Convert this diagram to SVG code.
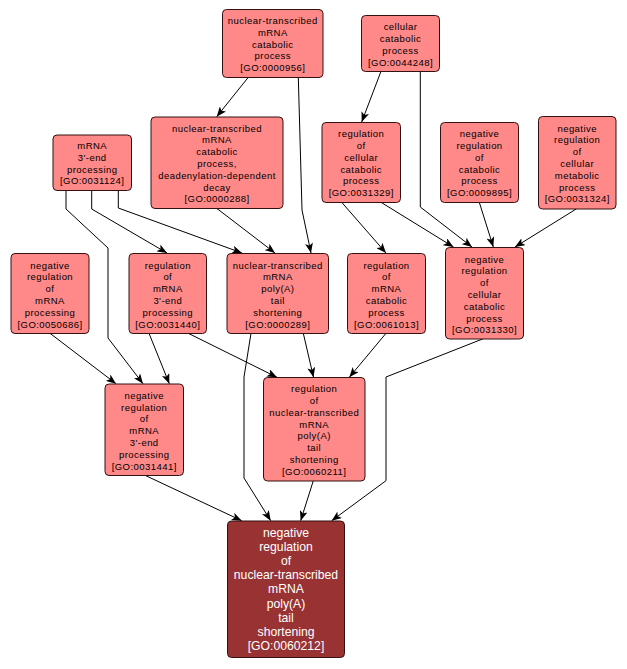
<svg xmlns="http://www.w3.org/2000/svg" width="627" height="669" viewBox="0 0 627 669">
<defs>
<style>
.n rect{fill:#ff8888;stroke:#331111;stroke-width:1}
.n text{font-family:"Liberation Sans",Arial,sans-serif;font-size:9.5px;letter-spacing:0.45px;text-anchor:middle;fill:#000}
.d rect{fill:#993333;stroke:#331111;stroke-width:1}
.d text{font-family:"Liberation Sans",Arial,sans-serif;font-size:12.2px;text-anchor:middle;fill:#fff}
.e path{fill:none;stroke:#000;stroke-width:1;marker-end:url(#ah)}
</style>
<marker id="ah" markerUnits="userSpaceOnUse" markerWidth="10" markerHeight="8" viewBox="0 0 10 8" refX="10" refY="4" orient="auto">
<path d="M0,0 L10,4 L0,8 L2.5,4 z" fill="#000"/>
</marker>
</defs>
<rect width="627" height="669" fill="#fff"/>
<g id="edges" class="e">
<path d="M248.3,77.3 L216.7,116.7"/>
<path d="M298.3,77.3 L302,210 L311,253"/>
<path d="M381,71.3 L361.7,122"/>
<path d="M420.3,71.3 L420.3,207 L472,247"/>
<path d="M341.7,202.3 L386,253"/>
<path d="M381,202.3 L453.5,247"/>
<path d="M479.3,202.3 L493.3,247"/>
<path d="M576.7,208.7 L515,247"/>
<path d="M66,190.3 L66,209 L108,248 L108,338 L143,383.7"/>
<path d="M91.7,190.3 L91.7,209 L167,253"/>
<path d="M118.3,190.3 L118.3,208 L242,253"/>
<path d="M216.7,208.3 L275,253"/>
<path d="M50,333.3 L116,383.7"/>
<path d="M149,333.3 L169.3,383.7"/>
<path d="M188.3,333.3 L277,377.3"/>
<path d="M303.3,333.3 L313.5,377.3"/>
<path d="M251,333.3 L244,377 L244,478 L270.7,520.7"/>
<path d="M386,333.3 L349.3,377.3"/>
<path d="M483.3,338.7 L386,377 L386,480.7 L331.7,520.7"/>
<path d="M145,475.3 L241.7,520.7"/>
<path d="M313.3,480.7 L300.7,520.7"/>
</g>
<g id="GO0000956" class="n"><rect x="222.5" y="9.5" width="100.5" height="68" rx="4"/>
<text x="272.8"><tspan x="272.8" y="23.9">nuclear-transcribed</tspan><tspan x="272.8" y="35.7">mRNA</tspan><tspan x="272.8" y="47.5">catabolic</tspan><tspan x="272.8" y="59.3">process</tspan><tspan x="272.8" y="71.1">[GO:0000956]</tspan></text></g>
<g id="GO0044248" class="n"><rect x="361.5" y="15.5" width="78" height="56" rx="4"/>
<text x="400.5"><tspan x="400.5" y="30.3">cellular</tspan><tspan x="400.5" y="42.1">catabolic</tspan><tspan x="400.5" y="53.9">process</tspan><tspan x="400.5" y="65.7">[GO:0044248]</tspan></text></g>
<g id="GO0000288" class="n"><rect x="151" y="117" width="132" height="91.5" rx="4"/>
<text x="217"><tspan x="217" y="131.6">nuclear-transcribed</tspan><tspan x="217" y="143.4">mRNA</tspan><tspan x="217" y="155.2">catabolic</tspan><tspan x="217" y="167">process,</tspan><tspan x="217" y="178.8">deadenylation-dependent</tspan><tspan x="217" y="190.6">decay</tspan><tspan x="217" y="202.4">[GO:0000288]</tspan></text></g>
<g id="GO0031124" class="n"><rect x="53" y="135" width="78.5" height="55.5" rx="4"/>
<text x="92.2"><tspan x="92.2" y="149">mRNA</tspan><tspan x="92.2" y="160.8">3'-end</tspan><tspan x="92.2" y="172.6">processing</tspan><tspan x="92.2" y="184.4">[GO:0031124]</tspan></text></g>
<g id="GO0031329" class="n"><rect x="322" y="122.5" width="78.5" height="80" rx="4"/>
<text x="361.2"><tspan x="361.2" y="137.2">regulation</tspan><tspan x="361.2" y="149">of</tspan><tspan x="361.2" y="160.8">cellular</tspan><tspan x="361.2" y="172.6">catabolic</tspan><tspan x="361.2" y="184.4">process</tspan><tspan x="361.2" y="196.2">[GO:0031329]</tspan></text></g>
<g id="GO0009895" class="n"><rect x="440.5" y="122.5" width="78" height="80" rx="4"/>
<text x="479.5"><tspan x="479.5" y="137.2">negative</tspan><tspan x="479.5" y="149">regulation</tspan><tspan x="479.5" y="160.8">of</tspan><tspan x="479.5" y="172.6">catabolic</tspan><tspan x="479.5" y="184.4">process</tspan><tspan x="479.5" y="196.2">[GO:0009895]</tspan></text></g>
<g id="GO0031324" class="n"><rect x="538.5" y="116.5" width="77.5" height="92.5" rx="4"/>
<text x="577.2"><tspan x="577.2" y="131.6">negative</tspan><tspan x="577.2" y="143.4">regulation</tspan><tspan x="577.2" y="155.2">of</tspan><tspan x="577.2" y="167">cellular</tspan><tspan x="577.2" y="178.8">metabolic</tspan><tspan x="577.2" y="190.6">process</tspan><tspan x="577.2" y="202.4">[GO:0031324]</tspan></text></g>
<g id="GO0050686" class="n"><rect x="11" y="253.5" width="78" height="80" rx="4"/>
<text x="50"><tspan x="50" y="268.5">negative</tspan><tspan x="50" y="280.3">regulation</tspan><tspan x="50" y="292.1">of</tspan><tspan x="50" y="303.9">mRNA</tspan><tspan x="50" y="315.7">processing</tspan><tspan x="50" y="327.5">[GO:0050686]</tspan></text></g>
<g id="GO0031440" class="n"><rect x="129" y="253.5" width="77.5" height="80" rx="4"/>
<text x="167.8"><tspan x="167.8" y="268.5">regulation</tspan><tspan x="167.8" y="280.3">of</tspan><tspan x="167.8" y="292.1">mRNA</tspan><tspan x="167.8" y="303.9">3'-end</tspan><tspan x="167.8" y="315.7">processing</tspan><tspan x="167.8" y="327.5">[GO:0031440]</tspan></text></g>
<g id="GO0000289" class="n"><rect x="227" y="253.5" width="101.5" height="80" rx="4"/>
<text x="277.8"><tspan x="277.8" y="268.5">nuclear-transcribed</tspan><tspan x="277.8" y="280.3">mRNA</tspan><tspan x="277.8" y="292.1">poly(A)</tspan><tspan x="277.8" y="303.9">tail</tspan><tspan x="277.8" y="315.7">shortening</tspan><tspan x="277.8" y="327.5">[GO:0000289]</tspan></text></g>
<g id="GO0061013" class="n"><rect x="347.5" y="253.5" width="78" height="80" rx="4"/>
<text x="386.5"><tspan x="386.5" y="268.5">regulation</tspan><tspan x="386.5" y="280.3">of</tspan><tspan x="386.5" y="292.1">mRNA</tspan><tspan x="386.5" y="303.9">catabolic</tspan><tspan x="386.5" y="315.7">process</tspan><tspan x="386.5" y="327.5">[GO:0061013]</tspan></text></g>
<g id="GO0031330" class="n"><rect x="445.5" y="247.5" width="78" height="91.5" rx="4"/>
<text x="484.5"><tspan x="484.5" y="262.6">negative</tspan><tspan x="484.5" y="274.4">regulation</tspan><tspan x="484.5" y="286.2">of</tspan><tspan x="484.5" y="298">cellular</tspan><tspan x="484.5" y="309.8">catabolic</tspan><tspan x="484.5" y="321.6">process</tspan><tspan x="484.5" y="333.4">[GO:0031330]</tspan></text></g>
<g id="GO0031441" class="n"><rect x="105" y="384" width="78.5" height="91.5" rx="4"/>
<text x="144.2"><tspan x="144.2" y="398.8">negative</tspan><tspan x="144.2" y="410.6">regulation</tspan><tspan x="144.2" y="422.4">of</tspan><tspan x="144.2" y="434.2">mRNA</tspan><tspan x="144.2" y="446">3'-end</tspan><tspan x="144.2" y="457.8">processing</tspan><tspan x="144.2" y="469.6">[GO:0031441]</tspan></text></g>
<g id="GO0060211" class="n"><rect x="263.5" y="377.5" width="101.5" height="103.5" rx="4"/>
<text x="314.2"><tspan x="314.2" y="392.2">regulation</tspan><tspan x="314.2" y="404">of</tspan><tspan x="314.2" y="415.8">nuclear-transcribed</tspan><tspan x="314.2" y="427.6">mRNA</tspan><tspan x="314.2" y="439.4">poly(A)</tspan><tspan x="314.2" y="451.2">tail</tspan><tspan x="314.2" y="463">shortening</tspan><tspan x="314.2" y="474.8">[GO:0060211]</tspan></text></g>
<g id="GO0060212" class="d"><rect x="227.5" y="521" width="117" height="136.5" rx="4"/>
<text x="286"><tspan x="286" y="536.5">negative</tspan><tspan x="286" y="550.7">regulation</tspan><tspan x="286" y="564.9">of</tspan><tspan x="286" y="579.1">nuclear-transcribed</tspan><tspan x="286" y="593.3">mRNA</tspan><tspan x="286" y="607.5">poly(A)</tspan><tspan x="286" y="621.7">tail</tspan><tspan x="286" y="635.9">shortening</tspan><tspan x="286" y="650.1">[GO:0060212]</tspan></text></g>
</svg>
